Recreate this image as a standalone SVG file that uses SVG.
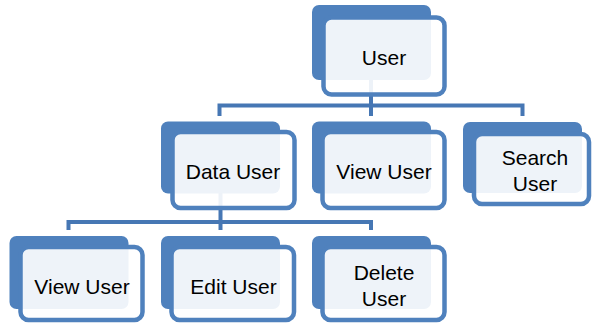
<svg xmlns="http://www.w3.org/2000/svg" width="593" height="324" viewBox="0 0 593 324">
<style>
.bg{fill:#ffffff}
.back{fill:#4f81bd}
.front{fill:#ffffff;fill-opacity:0.9;stroke:#4f81bd;stroke-width:4.5}
.conn{fill:none;stroke:#4677b4;stroke-width:4;stroke-linejoin:miter;stroke-linecap:butt}
text{font-family:"Liberation Sans",Arial,sans-serif;font-size:21px;fill:#000000;text-anchor:middle}
</style>
<rect class="bg" x="0" y="0" width="593" height="324"/>
<g id="connectors">
<path class="conn" d="M371,80 V105.5"/>
<path class="conn" d="M219.5,116 V105.5 H522.5 V116"/>
<path class="conn" d="M371,105.5 V116"/>
<path class="conn" d="M220.5,193 V222"/>
<path class="conn" d="M68.5,230 V222 H371 V230"/>
<path class="conn" d="M220.5,222 V230"/>
</g>
<g id="node-user">
<rect class="back" x="312" y="5" width="119" height="75" rx="7"/>
<rect class="front" x="323.5" y="17.5" width="121" height="77" rx="8"/>
<text x="384" y="65">User</text>
</g>
<g id="node-data-user">
<rect class="back" x="161" y="121.5" width="119" height="72" rx="7"/>
<rect class="front" x="172.5" y="132" width="122" height="76" rx="8"/>
<text x="233" y="178.5">Data User</text>
</g>
<g id="node-view-user-top">
<rect class="back" x="312" y="121.5" width="119" height="72" rx="7"/>
<rect class="front" x="322.5" y="132" width="122" height="76" rx="8"/>
<text x="384" y="178.5">View User</text>
</g>
<g id="node-search-user">
<rect class="back" x="463" y="122" width="119" height="71" rx="7"/>
<rect class="front" x="474" y="134" width="115" height="70" rx="8"/>
<text x="535" y="165">Search</text>
<text x="535" y="190.5">User</text>
</g>
<g id="node-view-user">
<rect class="back" x="9.5" y="236" width="119" height="73" rx="7"/>
<rect class="front" x="20.5" y="247" width="122" height="73" rx="8"/>
<text x="82" y="293.5">View User</text>
</g>
<g id="node-edit-user">
<rect class="back" x="161" y="236" width="119" height="73" rx="7"/>
<rect class="front" x="171.5" y="247" width="122.5" height="73" rx="8"/>
<text x="233.5" y="293.5">Edit User</text>
</g>
<g id="node-delete-user">
<rect class="back" x="312" y="236" width="119" height="73" rx="7"/>
<rect class="front" x="322.5" y="247" width="122" height="73" rx="8"/>
<text x="384" y="280">Delete</text>
<text x="384" y="305.5">User</text>
</g>
</svg>
